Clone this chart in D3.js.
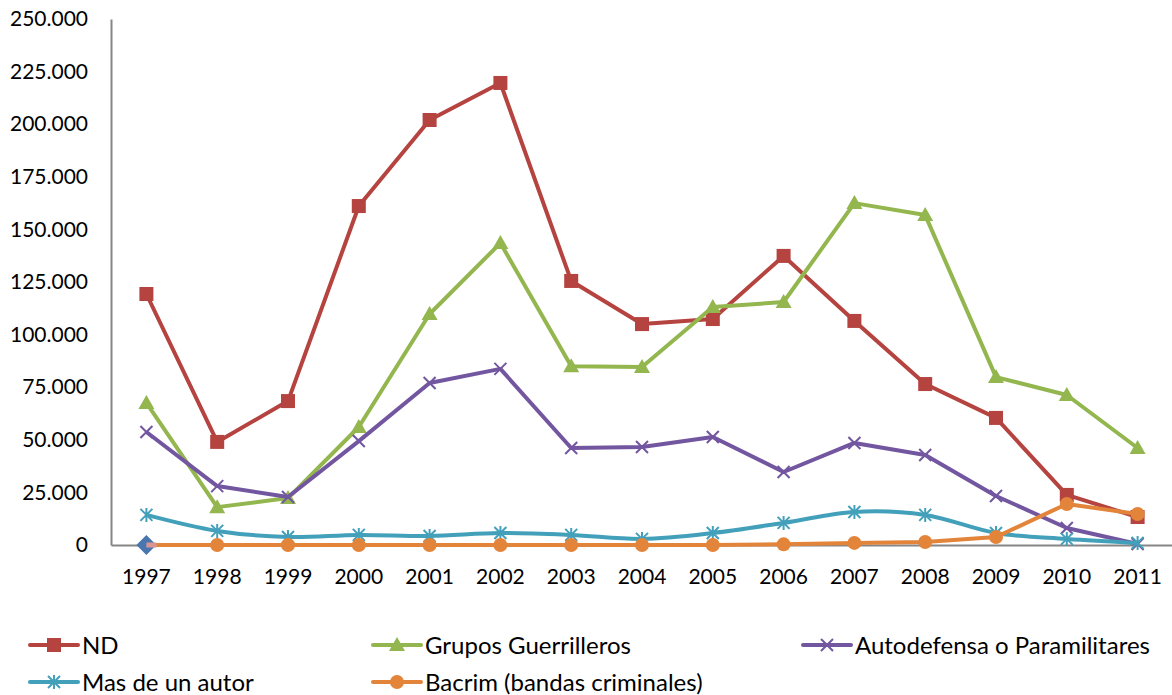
<!DOCTYPE html>
<html><head><meta charset="utf-8">
<script src="https://cdn.jsdelivr.net/npm/d3@7"></script>
<style>body{margin:0;background:#fff}svg{display:block}text{font-family:Lato,"Open Sans",sans-serif;fill:#000}</style>
</head><body><svg id="c" width="1172" height="695"></svg>
<script>
const years = ["1997","1998","1999","2000","2001","2002","2003","2004","2005","2006","2007","2008","2009","2010","2011"];
const yTicks = [0,25000,50000,75000,100000,125000,150000,175000,200000,225000,250000];
const nd = [119300,49000,68400,161100,202000,219600,125500,105000,107400,137400,106500,76500,60400,23800,13300];
const guerrilla = [67500,18000,22300,56100,109800,143500,85000,84600,113100,115500,162500,156800,79800,71300,46100];
const autodefensa = [53700,28000,22800,49400,77000,83700,46100,46600,51300,34700,48500,42800,23300,8100,500];
const masAutor = [14300,6700,3800,4800,4300,5700,4800,2900,5700,10500,15700,14300,5700,2900,1000];
const bacrim = [0,0,0,0,0,0,0,0,0,300,1000,1400,3800,19500,14700];
const extraPoint = [0]; // lone blue diamond at 1997
const seriesNames = ["ND","Grupos Guerrilleros","Autodefensa o Paramilitares","Mas de un autor","Bacrim (bandas criminales)"];
const seriesColors = ["#B5433F","#93B64F","#7356A0","#43A0BA","#E3843B"];
const seriesMarkers = ["square","triangle","x","star","circle"];
const seriesData = [nd,guerrilla,autodefensa,masAutor,bacrim];

const svg = d3.select("#c");
const x = d3.scaleBand().domain(years).range([111,1173]);
const y = d3.scaleLinear().domain([0,250000]).range([545,19]);
const fmt = v => v===0 ? "0" : d3.format(",")(v).replace(/,/g,".");

// axes
const ya = svg.append("g").attr("transform","translate(111,0)")
  .call(d3.axisLeft(y).tickValues(yTicks).tickFormat(fmt).tickSize(0).tickPadding(23));
ya.select(".domain").attr("stroke","#868686").attr("stroke-width",2);
ya.selectAll("text").style("font-size","21px");
const xa = svg.append("g").attr("transform","translate(0,545)")
  .call(d3.axisBottom(x).tickSize(0).tickPadding(24));
xa.select(".domain").attr("stroke","#868686").attr("stroke-width",2);
xa.selectAll("text").style("font-size","21px");

function marker(g, type, color, cx, cy){
  if(type==="square"){
    g.append("rect").attr("x",cx-7).attr("y",cy-7).attr("width",14).attr("height",14).attr("fill",color);
  } else if(type==="triangle"){
    g.append("path").attr("d",`M${cx},${cy-8}L${cx+8},${cy+6}L${cx-8},${cy+6}Z`).attr("fill",color);
  } else if(type==="circle"){
    g.append("circle").attr("cx",cx).attr("cy",cy).attr("r",7).attr("fill",color);
  } else if(type==="x"){
    g.append("path").attr("d",`M${cx-6},${cy-6}L${cx+6},${cy+6}M${cx-6},${cy+6}L${cx+6},${cy-6}`).attr("stroke",color).attr("stroke-width",2);
  } else if(type==="star"){
    g.append("path").attr("d",`M${cx-6},${cy-6}L${cx+6},${cy+6}M${cx-6},${cy+6}L${cx+6},${cy-6}M${cx},${cy-7}L${cx},${cy+7}`).attr("stroke",color).attr("stroke-width",2);
  }
}

const cx = d => x(d) + x.bandwidth()/2;
seriesData.forEach((data,i)=>{
  const g = svg.append("g");
  const line = d3.line().x((d,j)=>cx(years[j])).y(d=>y(d))
    .curve(i===3 ? d3.curveCatmullRom.alpha(0.5) : d3.curveLinear);
  g.append("path").attr("d",line(data)).attr("fill","none").attr("stroke",seriesColors[i])
    .attr("stroke-width",4).attr("stroke-linejoin","round").attr("stroke-linecap","butt");
  data.forEach((v,j)=>{ if(!(i===4 && j===0)) marker(g,seriesMarkers[i],seriesColors[i],cx(years[j]),y(v)); });
});
// lone diamond on top
extraPoint.forEach((v,j)=>{
  const px = cx(years[j]), py = y(v);
  svg.append("path").attr("d",`M${px},${py-10}L${px+10},${py}L${px},${py+10}L${px-10},${py}Z`).attr("fill","#4A76B0");
  svg.append("rect").attr("x",px).attr("y",py-2.5).attr("width",10).attr("height",5).attr("fill","#D99494");
});

// legend
const legendPos = [[30,645],[373,645],[803,645],[30,682],[373,682]];
seriesNames.forEach((n,i)=>{
  const [lx,ly] = legendPos[i];
  const g = svg.append("g");
  g.append("line").attr("x1",lx).attr("x2",lx+48).attr("y1",ly).attr("y2",ly)
    .attr("stroke",seriesColors[i]).attr("stroke-width",4).attr("stroke-linecap","round");
  marker(g,seriesMarkers[i],seriesColors[i],lx+24,ly);
  g.append("text").attr("x",lx+52).attr("y",ly).attr("dy","0.36em").style("font-size","24px").text(n);
});
</script></body></html>
